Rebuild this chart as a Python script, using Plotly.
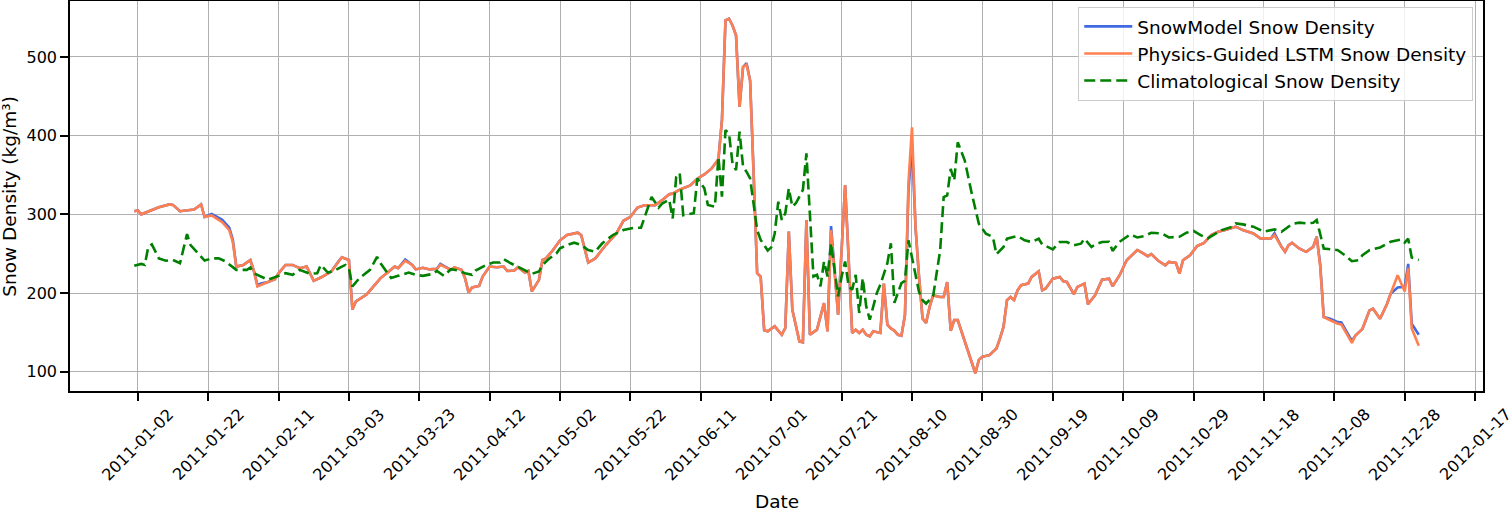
import pandas as pd
import plotly.graph_objects as go

START = pd.Timestamp("2011-01-01")

# Vertices; day 0 = 2011-01-01.
model_days = [
    0, 1, 2, 5, 7, 10, 11, 13, 15, 17, 19, 20, 22, 23, 25, 27, 28, 29, 31, 33,
    34, 35, 36, 38, 40, 41, 43, 45, 47, 49, 51, 53, 56, 58, 59, 61, 62, 63, 66, 68,
    70, 72, 74, 75, 77, 79, 80, 82, 84, 86, 87, 90, 91, 93, 94, 95, 96, 98, 99, 101,
    103, 105, 106, 108, 109, 111, 112, 113, 115, 116, 117, 119, 121, 123, 125, 126, 127, 129, 131, 132,
    134, 137, 139, 141, 143, 145, 148, 150, 152, 153, 155, 158, 160, 162, 164, 166, 167, 168, 169, 170,
    171, 172, 173, 174, 175, 176, 177, 178, 179, 180, 182, 184, 185, 186, 187, 189, 190, 191, 192, 194,
    196, 197, 198, 200, 202, 204, 205, 206, 207, 208, 209, 210, 212, 213, 214, 215, 216, 217, 218, 219,
    220, 221, 222, 223, 224, 225, 226, 227, 229, 230, 231, 232, 233, 234, 239, 240, 241, 243, 245, 246,
    247, 248, 249, 250, 251, 252, 254, 255, 257, 258, 259, 261, 263, 264, 265, 267, 268, 270, 271, 273,
    275, 277, 278, 280, 282, 285, 286, 288, 289, 291, 293, 294, 296, 297, 298, 300, 302, 304, 306, 308,
    310, 313, 315, 318, 320, 323, 324, 326, 327, 328, 329, 331, 333, 335, 336, 337, 338, 340, 342, 343,
    345, 346, 347, 349, 351, 352, 354, 356, 357, 359, 361, 362, 363, 365,
]

lstm = [
    304, 305, 300, 305, 309, 312.6, 312, 304, 305, 306, 312.6, 296.6, 298.7, 295.4, 290, 280, 265, 233.6, 235.7, 242,
    228, 208.4, 210.5, 214, 217.6, 225, 235.7, 235.7, 231.5, 233.6, 215.5, 219.7, 227.3, 240, 245.4, 242, 179, 189.5, 198, 208.4,
    219, 226, 233.6, 231.5, 240.8, 235.7, 230, 232, 230, 230.7, 235.7, 229.4, 232.4, 229.4, 219, 200.8, 207, 209, 221, 233.6,
    232.8, 233.6, 228, 228.6, 232.8, 226, 228, 202, 216.8, 242, 244, 254.6, 267, 273.7, 275, 276.6, 273.7, 238.7, 244, 249.7,
    261, 275.8, 291.8, 296.8, 308.6, 311.6, 311.6, 318, 325.5, 326.3, 331.4, 336.8, 345.3, 350.7, 358, 370, 420, 546.5, 548.6, 540,
    527.5, 436.6, 487.3, 490.3, 470, 352, 225.3, 221, 152.6, 151.3, 157.7, 147, 155.5, 278, 178.8, 138.6, 137.4, 292.9, 147, 153.4,
    187.2, 151.3, 280, 172.4, 337.3, 149.2, 153.4, 149.2, 153.4, 147, 145, 151.3, 149.2, 212, 159.8, 155, 152, 147, 145.8, 172,
    340, 410.6, 283.8, 220.4, 167.6, 162, 182.4, 197, 195, 195, 214, 152, 165.5, 165.5, 98, 115, 119, 121, 129.6, 142.3,
    157, 191, 195, 191, 203.5, 209.9, 212, 220.4, 227.6, 203.5, 205.7, 218.3, 220.4, 215, 214, 198.5, 207.8, 212, 185.8, 197,
    217, 218.3, 208.5, 222.6, 241.7, 254.5, 252.3, 246.8, 249.4, 240.9, 235.3, 239.6, 238.3, 224.7, 241.7, 248, 259.6, 263.8, 273.6, 277.9,
    280, 284.3, 280, 275.7, 269.4, 269.4, 273.6, 258.7, 252.3, 260.9, 263.8, 256.6, 252.3, 258.7, 271.5, 233.2, 169.4, 165.1, 160.9, 160,
    143.8, 136.6, 146, 154.5, 177.9, 180, 167.2, 186.4, 199.1, 222.6, 202, 232, 155, 133,
]

snowmodel = [
    304, 305, 300, 305, 309, 312.6, 312, 304, 305, 306, 312.6, 296.6, 300.5, 298, 293, 283, 268, 233.6, 235.7, 242,
    228, 210, 212, 214, 217.6, 225, 235.7, 235.7, 231.5, 233.6, 215.5, 219.7, 227.3, 240, 245.4, 242, 179, 189.5, 198, 208.4,
    219, 226, 233.6, 231.5, 242.5, 235.7, 230, 232, 230, 230.7, 237, 229.4, 232.4, 229.4, 219, 200.8, 207, 209, 221, 233.6,
    232.8, 233.6, 228, 228.6, 232.8, 226, 228, 202, 216.8, 242, 244, 254.6, 267, 273.7, 275, 276.6, 273.7, 238.7, 244, 249.7,
    261, 275.8, 291.8, 296.8, 308.6, 311.6, 311.6, 318, 325.5, 326.3, 331.4, 336.8, 345.3, 350.7, 358, 370, 420, 546.5, 548.6, 540,
    527.5, 436.6, 487.3, 492, 470, 352, 225.3, 221, 152.6, 151.3, 157.7, 147, 155.5, 278, 178.8, 138.6, 137.4, 292.9, 147, 153.4,
    187.2, 151.3, 285, 172.4, 337.3, 149.2, 153.4, 149.2, 153.4, 147, 145, 151.3, 149.2, 212, 159.8, 155, 152, 147, 145.8, 172,
    330, 390, 283.8, 220.4, 167.6, 162, 182.4, 197, 195, 195, 214, 152, 165.5, 165.5, 98, 115, 119, 121, 129.6, 142.3,
    157, 191, 195, 191, 203.5, 209.9, 212, 220.4, 227.6, 203.5, 205.7, 218.3, 220.4, 215, 214, 198.5, 207.8, 212, 185.8, 197,
    217, 218.3, 208.5, 222.6, 241.7, 254.5, 252.3, 246.8, 249.4, 240.9, 235.3, 239.6, 238.3, 224.7, 241.7, 248, 259.6, 263.8, 273.6, 277.9,
    280, 284.3, 280, 275.7, 269.4, 269.4, 276, 258.7, 252.3, 260.9, 263.8, 256.6, 252.3, 258.7, 271.5, 236, 169.4, 167, 163, 162.5,
    146, 139, 146, 154.5, 177.9, 180, 167.2, 186.4, 199.1, 207, 208, 237, 161, 147,
]

clim_days = [
    0, 2, 3, 4, 5, 7, 9, 11, 13, 14, 15, 16, 18, 20, 22, 24, 26, 29, 32, 33,
    34, 36, 38, 41, 43, 45, 47, 49, 50, 52, 53, 55, 57, 59, 60, 61, 62, 64, 66, 67,
    69, 70, 72, 73, 75, 78, 80, 82, 85, 86, 88, 90, 92, 94, 96, 97, 100, 102, 104, 105,
    107, 109, 111, 113, 115, 116, 118, 120, 121, 123, 125, 127, 129, 131, 133, 136, 139, 142, 144, 146,
    147, 149, 150, 152, 153, 154, 155, 156, 158, 159, 160, 162, 163, 165, 166, 167, 168, 169, 170, 171,
    172, 173, 174, 175, 177, 178, 180, 181, 182, 183, 184, 185, 186, 187, 188, 190, 191, 192, 193, 194,
    195, 196, 197, 198, 200, 201, 202, 203, 204, 205, 206, 207, 208, 209, 211, 212, 214, 215, 216, 218,
    219, 220, 221, 223, 224, 225, 227, 229, 230, 231, 232, 233, 234, 236, 238, 240, 242, 244, 245, 247,
    248, 251, 253, 255, 257, 258, 261, 263, 265, 267, 269, 270, 272, 273, 275, 277, 278, 280, 283, 285,
    287, 289, 292, 294, 297, 299, 301, 303, 305, 307, 309, 312, 313, 315, 318, 321, 324, 326, 329, 331,
    333, 335, 336, 338, 340, 342, 344, 346, 348, 349, 351, 354, 357, 359, 360, 361, 362, 363, 365,
]

climatology = [
    234.5, 237, 235.7, 258.8, 261.8, 244, 241, 242, 237.8, 254.6, 274.8, 261, 250.4, 241.2, 244, 244, 240, 229.4, 229.4, 232.4,
    225.2, 221, 216.8, 221.8, 225.2, 223.1, 229.4, 226, 224.4, 225.2, 235.7, 226, 228.6, 233.6, 235.7, 231.5, 208.4, 219, 226, 229.4,
    246, 237.8, 225.2, 219, 221.8, 226, 223.1, 221.8, 224.4, 228.2, 221.8, 230.3, 228.6, 225.2, 223.1, 228.6, 235.7, 238.7, 238.7, 242.9,
    237.8, 233.6, 228.6, 224.4, 227.3, 235.7, 244, 250.4, 256.8, 261, 264, 261, 254.7, 252.6, 263.2, 273.7, 280, 283, 283, 309.5,
    322, 308.6, 313.7, 318.7, 294.7, 347.4, 352.4, 299, 301, 301.4, 345.7, 333, 312, 309.8, 373, 322.5, 407, 402.8, 364.8, 356.3,
    405, 360.5, 354, 345.7, 280, 267.5, 254, 258, 276, 316.1, 292.9, 301.4, 333, 309.8, 314, 331, 377.4, 300, 221, 223.2,
    208.4, 240, 221, 263.3, 195.7, 221, 240, 208.4, 204.1, 223.2, 174.6, 218.9, 183, 166.1, 199.9, 210.5, 238, 263.3, 187.5, 212.6,
    215.6, 267, 245.8, 201.4, 190.9, 186.6, 196, 254.2, 321.8, 324, 357.8, 343, 391.6, 368.3, 326, 288, 275.4, 271.1, 249.2, 258.5,
    269, 272.4, 266.9, 264.8, 269, 261.8, 255.5, 264.8, 264.8, 260.6, 262.7, 269, 258.5, 261.8, 264.8, 265.1, 253.6, 265.1, 274.5, 270.6,
    272.3, 276.6, 275.7, 270.6, 271.5, 276.6, 279.1, 273.6, 269.4, 274.9, 280, 284.3, 288.5, 287.2, 284.3, 277.9, 280.9, 277.9, 287.7, 289.4,
    288.5, 289.4, 292.8, 256.6, 255.3, 254.5, 248.1, 240.4, 241.7, 248.1, 254.5, 257.9, 265.1, 266.4, 268, 264, 269, 245, 242,
]

tick_labels = [
    "2011-01-02", "2011-01-22", "2011-02-11", "2011-03-03", "2011-03-23",
    "2011-04-12", "2011-05-02", "2011-05-22", "2011-06-11", "2011-07-01",
    "2011-07-21", "2011-08-10", "2011-08-30", "2011-09-19", "2011-10-09",
    "2011-10-29", "2011-11-18", "2011-12-08", "2011-12-28", "2012-01-17",
]
y_ticks = [100, 200, 300, 400, 500]

FONT = "DejaVu Sans"
TICK_SIZE = 16
LABEL_SIZE = 18.5

model_dates = START + pd.to_timedelta(model_days, unit="D")
clim_dates = START + pd.to_timedelta(clim_days, unit="D")

fig = go.Figure()
fig.add_scatter(x=model_dates, y=snowmodel, mode="lines", name="SnowModel Snow Density",
                line=dict(color="royalblue", width=2.6))
fig.add_scatter(x=model_dates, y=lstm, mode="lines", name="Physics-Guided LSTM Snow Density",
                line=dict(color="coral", width=2.6))
fig.add_scatter(x=clim_dates, y=climatology, mode="lines", name="Climatological Snow Density",
                line=dict(color="green", width=2.6, dash="11px,5px"))

# matplotlib-style 5% padding around the data
d0, d1 = min(model_dates.min(), clim_dates.min()), max(model_dates.max(), clim_dates.max())
xpad = (d1 - d0) * 0.05
vals = snowmodel + lstm + climatology
ypad = (max(vals) - min(vals)) * 0.05

fig.update_layout(
    width=1512,
    height=512,
    margin=dict(l=70, r=29, t=1, b=121),
    paper_bgcolor="white",
    plot_bgcolor="white",
    font=dict(family=FONT, size=TICK_SIZE, color="black"),
    legend=dict(
        x=0.9931, xanchor="right", y=0.985, yanchor="top",
        font=dict(size=LABEL_SIZE),
        itemwidth=48,
        bgcolor="rgba(255,255,255,0.8)",
        bordercolor="#cccccc",
        borderwidth=1,
    ),
)
axis_style = dict(
    showline=True, mirror=True, linecolor="black", linewidth=1.5,
    ticks="outside", ticklen=8, tickwidth=1.5, tickcolor="black",
    showgrid=True, gridcolor="#b0b0b0", gridwidth=1, zeroline=False,
    automargin=False,
)
fig.update_xaxes(
    range=[d0 - xpad, d1 + xpad],
    tickvals=pd.to_datetime(tick_labels),
    showticklabels=False,
    **axis_style,
)
fig.update_yaxes(
    range=[min(vals) - ypad, max(vals) + ypad],
    tickvals=y_ticks,
    tickfont=dict(size=TICK_SIZE),
    **axis_style,
)

# rotated date labels centred under their ticks, as matplotlib draws them
for label in tick_labels:
    fig.add_annotation(
        x=label, xref="x", y=0, yref="paper", yshift=-11,
        text=label, textangle=-45, showarrow=False,
        xanchor="center", yanchor="top",
        font=dict(size=TICK_SIZE),
    )
fig.add_annotation(x=0.5, xref="paper", y=-0.283, yref="paper", text="Date",
                   showarrow=False, xanchor="center", yanchor="middle",
                   font=dict(size=LABEL_SIZE))
fig.add_annotation(x=-0.0434, xref="paper", y=0.5, yref="paper", text="Snow Density (kg/m³)",
                   textangle=-90, showarrow=False, xanchor="center", yanchor="middle",
                   font=dict(size=LABEL_SIZE))

# drop the browser's default 8px body margin so the figure sits at the page corner
fig.write_html(
    "out.html",
    config={"displayModeBar": False},
    post_script="document.body.style.margin = '0';",
)
